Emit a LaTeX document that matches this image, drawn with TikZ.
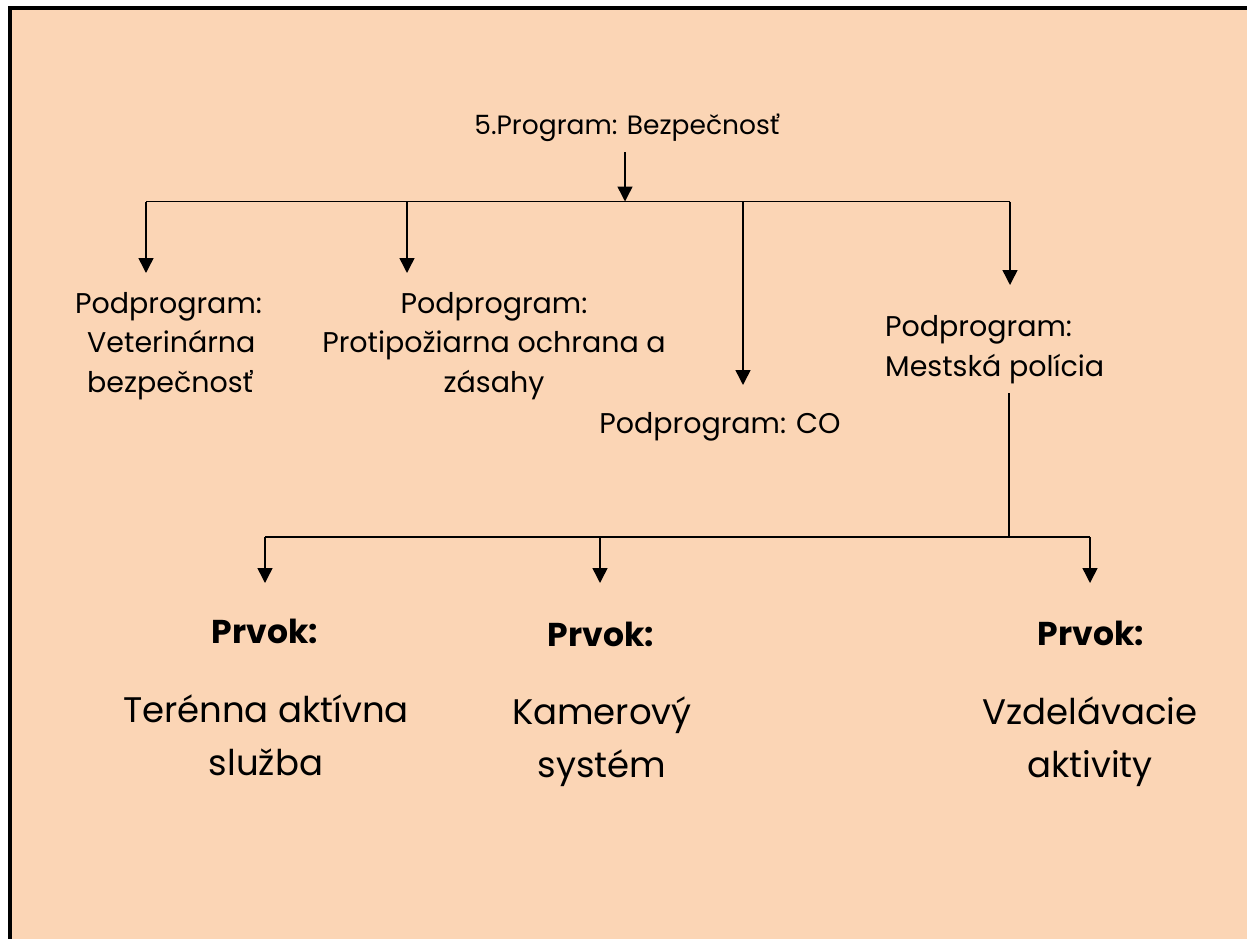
\documentclass[tikz,border=0pt]{standalone}
\usepackage{fontspec}
\setmainfont{Poppins}
\usetikzlibrary{arrows.meta}
\definecolor{peach}{RGB}{251,213,181}
\tikzset{
  conn/.style={line width=1.5pt, black},
  arr/.style={conn, -{Triangle[length=15pt,width=15pt]}},
  sub/.style={font=\fontsize{28.5}{39.5}\selectfont, inner sep=0pt, anchor=base},
  ttl/.style={font=\fontsize{26.5}{39.5}\selectfont, inner sep=0pt, anchor=base},
  prv/.style={font=\fontsize{33}{40}\selectfont\bfseries, inner sep=0pt, anchor=base},
  elem/.style={font=\fontsize{35.5}{53}\selectfont, inner sep=0pt, anchor=base, align=center},
}
\begin{document}
\begin{tikzpicture}[x=1pt,y=-1pt]
\useasboundingbox (0,0) rectangle (1247,939);
\fill[white] (0,0) rectangle (1247,939);
\fill[peach] (10,8.5) rectangle (1247,939);
\draw[line width=4pt] (10,939) -- (10,8.5) -- (1247,8.5);

% texts (base anchor = baseline of the last line)
\node[ttl] (title) at (627,135) {5.Program: Bezpečnosť};
\node[sub, align=left, anchor=base west] (vet) at (75,392) {Podprogram:\\\hspace*{12pt}Veterinárna\\\hspace*{12pt}bezpečnosť};
\node[sub, align=center] (pozar) at (494,392) {Podprogram:\\Protipožiarna ochrana a\\zásahy};
\node[sub] (co) at (720,433) {Podprogram: CO};
\node[sub, align=left, anchor=base west] (mp) at (885,376) {Podprogram:\\Mestská polícia};

\node[prv] (p1) at (265,643) {Prvok:};
\node[prv] (p2) at (601,646) {Prvok:};
\node[prv] (p3) at (1091,645) {Prvok:};
\node[elem] (e1) at (266,775) {Terénna aktívna\\služba};
\node[elem] (e2) at (602,777) {Kamerový\\systém};
\node[elem] (e3) at (1090,777) {Vzdelávacie\\aktivity};

% connector points
\coordinate (tstart) at (625,152);
\coordinate (tj) at (625,201.5);
\coordinate (bL) at (146,201.5);
\coordinate (bR) at (1010,201.5);
\coordinate (b2) at (407,201.5);
\coordinate (b3) at (743,201.5);
\coordinate (t1) at (146,273);
\coordinate (t2) at (407,273);
\coordinate (t3) at (743,385);
\coordinate (t4) at (1010,285);
\coordinate (ms) at (1009,393);
\coordinate (mj) at (1009,537);
\coordinate (cL) at (265,537);
\coordinate (cM) at (600,537);
\coordinate (cR) at (1090,537);
\coordinate (u1) at (265,583);
\coordinate (u2) at (600,583);
\coordinate (u3) at (1090,583);

\draw[arr] (tstart) -- (tj);
\draw[conn] (bL) -- (bR);
\draw[arr] (bL) -- (t1);
\draw[arr] (b2) -- (t2);
\draw[arr] (b3) -- (t3);
\draw[arr] (bR) -- (t4);
\draw[conn] (ms) -- (mj);
\draw[conn] (cL) -- (cR);
\draw[arr] (cL) -- (u1);
\draw[arr] (cM) -- (u2);
\draw[arr] (cR) -- (u3);
\end{tikzpicture}
\end{document}
